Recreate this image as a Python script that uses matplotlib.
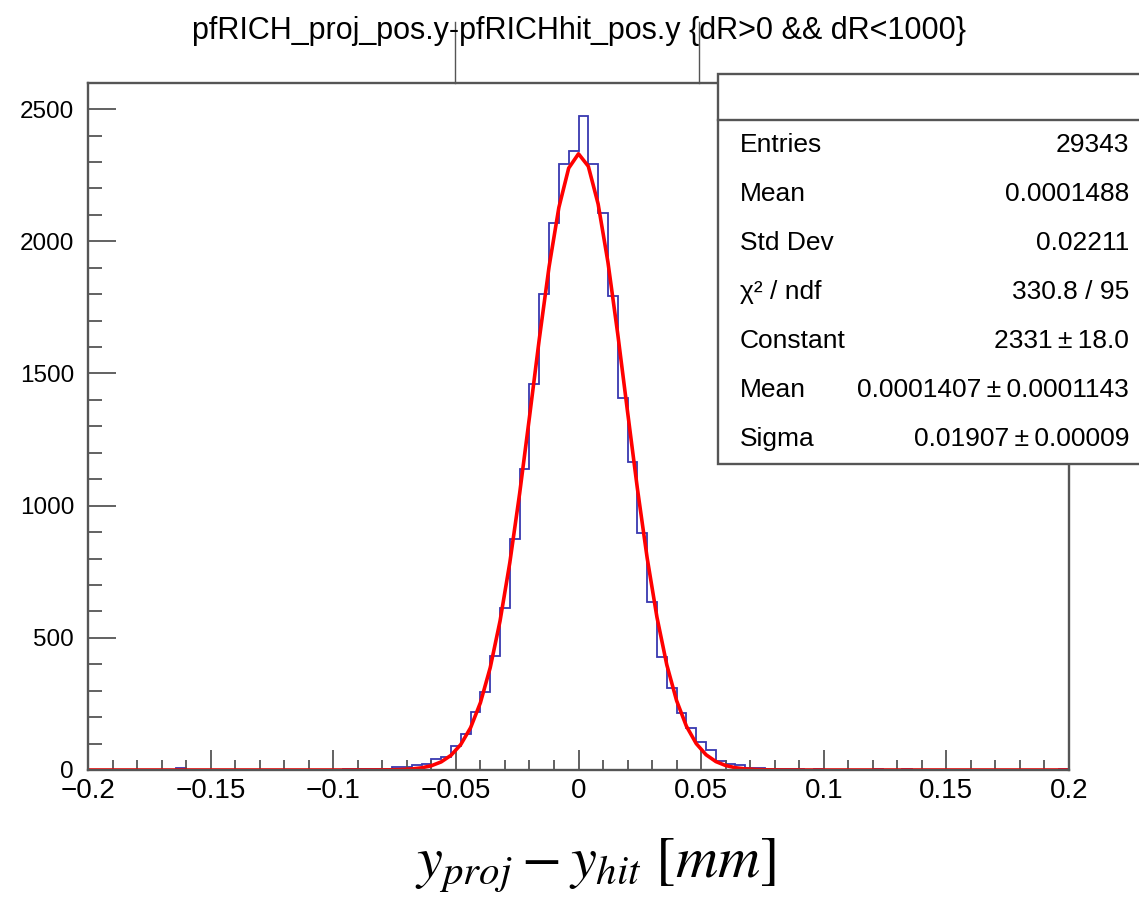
import numpy as np
import matplotlib.pyplot as plt
from matplotlib.patches import Rectangle
from matplotlib.ticker import MultipleLocator

plt.rcParams['font.family'] = ['Liberation Sans', 'DejaVu Sans']
plt.rcParams['mathtext.fontset'] = 'stix'

# histogram: 100 bins from -0.2 to 0.2
x_lo, x_hi, n_bins = -0.2, 0.2, 100
counts = [
    1, 0, 0, 1, 0, 0, 1, 0, 0, 6,
    0, 1, 0, 0, 1, 0, 0, 0, 1, 0,
    0, 1, 0, 0, 1, 1, 5, 5, 2, 2,
    3, 12, 13, 18, 21, 40, 50, 92, 135, 219,
    294, 432, 614, 874, 1140, 1459, 1800, 2068, 2292, 2340,
    2475, 2292, 2108, 1793, 1408, 1164, 896, 635, 429, 311,
    217, 160, 106, 76, 35, 22, 20, 9, 7, 5,
    2, 2, 2, 1, 5, 1, 1, 0, 1, 1,
    4, 1, 1, 4, 0, 1, 0, 0, 1, 0,
    1, 0, 0, 1, 0, 0, 1, 0, 1, 5,
]

# gaus fit result as printed in the stats box
fit_const = 2331.0
fit_mean = 0.0001407
fit_sigma = 0.01907

title = "pfRICH_proj_pos.y-pfRICHhit_pos.y {dR>0 && dR<1000}"
pm = "\u2009\u00b1\u2009"
stat_labels = ["Entries", "Mean", "Std Dev", "\u03c7\u00b2 / ndf",
               "Constant", "Mean", "Sigma"]
stat_values = ["29343", "0.0001488", "0.02211", "330.8 / 95",
               "2331" + pm + "18.0", "0.0001407" + pm + "0.0001143",
               "0.01907" + pm + "0.00009"]

W, H = 1139, 906
frame_col = '#555555'

fig = plt.figure(figsize=(W / 100, H / 100), dpi=100, facecolor='white')
ax = fig.add_axes([88 / W, (H - 770) / H, 981 / W, 687 / H])

edges = np.linspace(x_lo, x_hi, n_bins + 1)
ax.stairs(counts, edges, color='#3838b0', linewidth=1.3)

x_fit = np.linspace(x_lo, x_hi, 101)
y_fit = fit_const * np.exp(-0.5 * ((x_fit - fit_mean) / fit_sigma) ** 2)
ax.plot(x_fit, y_fit, color='#ff0000', linewidth=2.6)

ax.set_xlim(x_lo, x_hi)
ax.set_ylim(0, 1.05 * max(counts))
ax.xaxis.set_major_locator(MultipleLocator(0.05))
ax.xaxis.set_minor_locator(MultipleLocator(0.01))
ax.yaxis.set_major_locator(MultipleLocator(500))
ax.yaxis.set_minor_locator(MultipleLocator(100))
ax.xaxis.set_major_formatter(plt.FuncFormatter(
    lambda v, p: f"{v:g}".replace('-', '\u2212') if abs(v) > 1e-9 else "0"))
ax.tick_params(axis='x', which='major', direction='in', length=14.5, width=1.3,
               color=frame_col, labelsize=20, pad=6)
ax.tick_params(axis='x', which='minor', direction='in', length=7.2, width=1.3, color=frame_col)
ax.tick_params(axis='y', which='major', direction='in', length=20, width=1.3,
               color=frame_col, labelsize=17.5, pad=10)
ax.tick_params(axis='y', which='minor', direction='in', length=10, width=1.3, color=frame_col)
for s in ax.spines.values():
    s.set_color(frame_col)
    s.set_linewidth(1.7)

# overlay in pixel coordinates for title pave, stats box and axis label
ov = fig.add_axes([0, 0, 1, 1], zorder=5)
ov.set_xlim(0, W)
ov.set_ylim(H, 0)
ov.axis('off')
ov.patch.set_alpha(0)

ov.plot([455, 455], [22, 83], color=frame_col, lw=1.0)
ov.plot([699, 699], [22, 83], color=frame_col, lw=1.0)
ov.text(579, 31, title, ha='center', va='center', fontsize=22, color='black')

ov.add_patch(Rectangle((718, 74), 450, 390, facecolor='white',
                       edgecolor=frame_col, linewidth=1.7))
ov.plot([718, W], [120, 120], color=frame_col, lw=1.7)
row_h = (464 - 120) / len(stat_labels)
for i, (lab, val) in enumerate(zip(stat_labels, stat_values)):
    yc = 120 + row_h * (i + 0.5)
    ov.text(740, yc, lab, ha='left', va='center', fontsize=19)
    ov.text(1129, yc, val, ha='right', va='center', fontsize=19)

ov.text(595, 866, r'$y_{proj} - y_{hit}\ [mm]$', ha='center', va='center', fontsize=42)

fig.savefig('out.png', dpi=100, facecolor='white')
